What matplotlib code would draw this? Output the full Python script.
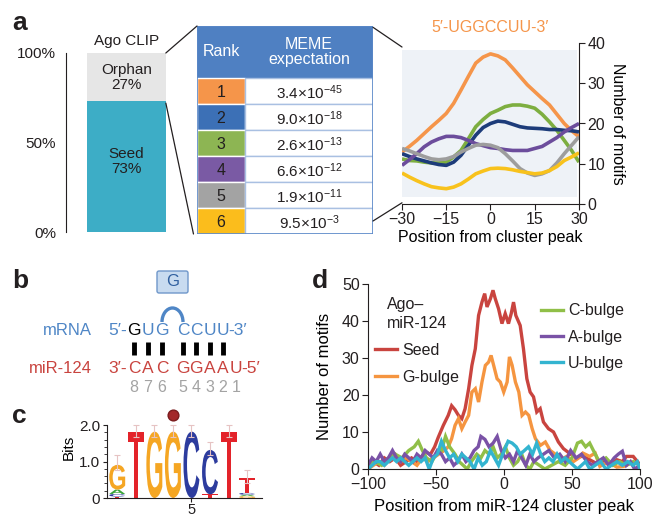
import numpy as np
import matplotlib
matplotlib.use('Agg')
import matplotlib.pyplot as plt
from matplotlib.patches import Rectangle, FancyBboxPatch, Arc, PathPatch, ConnectionPatch
from matplotlib.textpath import TextPath
from matplotlib.font_manager import FontProperties
from matplotlib.transforms import Affine2D
from matplotlib.ticker import FixedLocator

plt.rcParams['font.family'] = ['Liberation Sans', 'DejaVu Sans']
plt.rcParams['mathtext.fontset'] = 'custom'
plt.rcParams['mathtext.rm'] = 'Liberation Sans'
plt.rcParams['mathtext.default'] = 'regular'
plt.rcParams['text.color'] = '#231f20'
plt.rcParams['axes.edgecolor'] = '#231f20'
plt.rcParams['xtick.color'] = '#231f20'
plt.rcParams['ytick.color'] = '#231f20'

## panel a: Ago CLIP split
clip_labels = ['Seed', 'Orphan']
clip_pct = [73, 27]
clip_colors = ['#3dadc6', '#e6e6e6']

## panel a: MEME table
ranks = ['1', '2', '3', '4', '5', '6']
meme_exp = [r'3.4$\times$10$^{-45}$', r'9.0$\times$10$^{-18}$', r'2.6$\times$10$^{-13}$',
            r'6.6$\times$10$^{-12}$', r'1.9$\times$10$^{-11}$', r'9.5$\times$10$^{-3}$']
rank_colors = ['#f5954a', '#3c70b6', '#8db553', '#7a5aa4', '#a3a3a3', '#fbbd1c']

## panel a: motif profiles around cluster peak
pos_a = [-30, -27.5, -25, -22.5, -20, -17.5, -15, -12.5, -10, -7.5, -5, -2.5, 0,
         2.5, 5, 7.5, 10, 12.5, 15, 17.5, 20, 22.5, 25, 27.5, 30]
m_orange = [12.9, 14.3, 15.8, 17.5, 19.2, 20.8, 22.5, 25.0, 28.3, 31.7, 35.0, 36.5, 37.3,
            36.8, 35.8, 33.8, 31.7, 29.6, 27.9, 26.2, 24.6, 22.3, 20.0, 18.2, 16.7]
m_green = [11.2, 10.8, 10.7, 10.4, 10.2, 10.2, 10.4, 11.7, 13.3, 16.2, 19.2, 21.0, 22.5,
           23.3, 24.2, 24.6, 24.6, 24.3, 23.8, 22.3, 20.4, 18.3, 15.8, 13.3, 10.4]
m_navy = [12.5, 11.8, 11.2, 10.7, 10.2, 9.8, 9.6, 10.4, 12.1, 14.6, 17.1, 19.0, 20.0,
          20.6, 20.4, 19.8, 19.2, 18.9, 18.8, 18.7, 18.5, 18.5, 18.3, 18.2, 17.9]
m_purple = [9.6, 11.0, 12.5, 14.2, 15.4, 16.2, 16.8, 16.8, 16.5, 15.8, 15.0, 14.5, 14.0,
            13.8, 13.5, 13.3, 13.3, 13.3, 13.8, 14.3, 15.4, 16.5, 17.9, 19.0, 20.0]
m_grey = [13.8, 13.2, 12.5, 11.8, 11.2, 11.0, 11.2, 11.8, 12.9, 13.8, 14.6, 14.8, 14.6,
          14.0, 12.5, 10.7, 8.8, 7.7, 7.1, 7.5, 8.3, 10.2, 12.5, 14.6, 16.7]
m_yellow = [7.7, 6.7, 5.8, 5.0, 4.3, 4.0, 3.8, 4.2, 5.0, 6.2, 7.5, 8.2, 8.8,
            8.9, 8.8, 8.5, 8.1, 7.8, 7.5, 7.7, 8.3, 9.3, 10.8, 11.7, 12.7]

## panel b: pairing diagram
mrna_left = ['G', 'U', 'G']
mrna_right = ['C', 'C', 'U', 'U']
mir_left = ['C', 'A', 'C']
mir_right = ['G', 'G', 'A', 'A', 'U']
seed_nums_left = ['8', '7', '6']
seed_nums_right = ['5', '4', '3', '2', '1']

## panel c: sequence logo (letters bottom->top with heights in bits)
logo_letters = [['T', 'C', 'A', 'G'], ['T'], ['G'], ['G'], ['C'], ['T', 'C'], ['T'], ['G', 'A', 'C', 'T']]
logo_heights = [[0.04, 0.07, 0.12, 0.68], [1.82], [1.82], [1.82], [1.82], [0.10, 1.22], [1.82], [0.05, 0.04, 0.05, 0.41]]
logo_err = [1.18, 2.0, 2.0, 2.0, 2.0, 1.55, 2.0, 0.77]
nt_colors = {'A': '#3aa53a', 'C': '#2d3c9e', 'G': '#f5a623', 'T': '#e3232a'}

## panel d: motifs around miR-124 cluster peak
seed_x = [-100, -96, -92, -88, -84, -80, -76, -72, -68, -64, -61, -58, -54, -51, -48.3, -44.6,
          -41, -38.5, -36, -33.5, -31, -28.6, -26, -23.6, -21.1, -18.7, -16.2, -14.2, -12.5,
          -10, -8.1, -6.4, -4, -1.5, 0.9, 3.3, 5.3, 7, 8.7, 11.9, 14.3, 16.8, 19.2, 21.7,
          24.1, 26.6, 29, 32.7, 36.4, 40, 43.7, 48, 53, 58, 63, 68, 73, 78, 83, 87, 90, 95, 99]
seed_y = [1, 2, 1, 3, 2, 3, 1, 2, 3, 2, 3, 4.6, 4, 6, 8.6, 11.8,
          14.5, 17.1, 16, 14.5, 13.6, 16.3, 21.7, 28, 32.5, 41.5, 45.1, 47.4, 43.8,
          46, 48.3, 46, 43.3, 39.3, 42, 39.3, 42, 45.1, 41.5, 38.8, 32.5, 24.4, 20.8, 19.5,
          15.4, 16.3, 12.7, 10.9, 10, 7.3, 5.5, 4.3, 3, 3.5, 2.5, 1.5, 2, 1, 2.5, 2, 3.4, 3.4, 1.6]
gb_x = [-100, -96, -92, -88, -84, -80, -76, -72, -68, -64, -60, -56, -52, -48, -44, -41,
        -38.5, -36, -33.5, -31, -28.6, -26, -23.6, -21.1, -18.7, -16.2, -13.7, -11.3, -9.5,
        -7.6, -5.1, -2.7, -0.2, 2.3, 4, 6, 8.4, 10.9, 13.3, 15.8, 18.2, 20.7, 23.1, 26.8,
        30.4, 34, 38.9, 42, 46, 51, 55, 58, 63, 67, 70.5, 74, 78, 83, 88, 93, 97.5, 100]
gb_y = [0, 1, 2, 1, 3, 4, 2, 3, 2, 1, 3, 2, 3, 4, 5, 6,
        8.2, 11.8, 13.6, 10.9, 12.7, 14.5, 20.8, 21.7, 18.1, 23.5, 28, 28.9, 30.7,
        28, 24.4, 23.5, 20.8, 23.5, 30.3, 28, 23.5, 20.8, 14.5, 15.4, 14.5, 10.9, 8.2, 6.4,
        7.3, 5, 3.7, 2.5, 3.4, 2, 3, 4.3, 3.4, 4.3, 0.7, 1.5, 1.6, 0.5, 0.7, 1.5, 1.6, 1]
cb_x = [-100, -95, -90, -85, -80, -75, -70, -66, -63, -60, -57, -53, -50, -46, -43, -40, -36,
        -33, -30, -27, -24, -20, -17, -14, -11, -8, -5, -2, 1, 4, 7, 10, 13, 16, 19, 22, 26,
        30, 35, 40, 45, 50, 54, 57, 60, 63, 66, 70, 75, 80, 85, 90, 95, 100]
cb_y = [1, 2, 1, 3, 4, 3, 5, 6, 7.5, 5, 3, 2, 4, 5, 8.8, 6, 4,
        2, 1, 0, 2, 4, 3, 5, 4, 6, 3, 4, 6, 3, 1, 2, 4, 1, 0, 2, 1,
        0, 1, 2, 1, 3, 7, 7.5, 6, 7, 4.8, 2, 3, 1, 2, 1, 2, 1]
ab_x = [-100, -97, -94, -91, -88, -85, -82, -79, -76, -73, -70, -67, -64, -61, -58, -55, -52,
        -49, -46, -43, -40, -37, -34, -31, -28, -25, -22, -19, -17, -14, -11, -8, -5, -2, 1,
        4, 7, 10, 13, 16, 19, 22, 25, 29, 33, 37, 41, 45, 49, 53, 57, 61, 65, 69, 73, 77,
        81, 84, 87, 90, 93, 96, 100]
ab_y = [1, 3, 2, 4, 2, 3, 5, 3, 2, 4, 3, 2, 4, 3, 5, 4, 3,
        5, 4, 2, 3, 1, 2, 4, 2, 3, 5, 6, 8.8, 8, 6, 7, 8.8, 5, 3,
        4, 2, 5, 3, 1, 4, 2, 3, 4, 5, 3, 4, 2, 5, 3, 4, 2, 1, 2, 3, 1,
        3, 4, 4.8, 1, 2, 0, 1]
ub_x = [-100, -97, -94, -91, -88, -85, -82, -79, -76, -73, -70, -67, -64, -61, -58, -55, -52,
        -49, -46, -43, -40, -37, -34, -31, -28, -25, -22, -19, -16, -13, -10, -7, -4, -1, 3,
        6, 9, 12, 15, 18, 21, 24, 27, 30, 33, 36, 39, 42, 45, 48, 51, 54, 57, 60, 63, 67,
        71, 75, 79, 83, 87, 91, 95, 98, 100]
ub_y = [0, 1, 2, 2, 1, 2, 3, 2, 3, 2, 1, 2, 3, 2, 3, 0, 3,
        4, 7.5, 5, 3, 4, 2, 4, 3, 2, 0, 3, 1, 2, 5, 3, 1, 4, 7.5,
        7, 6, 4, 5, 6, 4, 7, 4, 2, 3, 2, 4, 2, 3, 2, 1, 0, 1, 2, 0, 1,
        2, 0, 1, 2, 1, 2, 1, 2, 0]

W, H = 654, 517
fig = plt.figure(figsize=(W / 100, H / 100), dpi=100)
fig.patch.set_facecolor('white')


def px_axes(x0, y0, x1, y1):
    return fig.add_axes([x0 / W, 1 - y1 / H, (x1 - x0) / W, (y1 - y0) / H])


LOGO_FP = FontProperties(family='Liberation Sans', weight='bold')


def draw_letter(ax, ch, x, y0, h, color, w=0.86):
    tp = TextPath((0, 0), ch, size=1, prop=LOGO_FP)
    bb = tp.get_extents()
    tr = Affine2D().translate(-bb.x0, -bb.y0).scale(w / bb.width, h / bb.height).translate(x - w / 2, y0)
    ax.add_patch(PathPatch(tr.transform_path(tp), fc=color, ec='none', lw=0))


# panel labels
for lab, (lx, ly) in zip('abcd', [(12, 30), (12, 288), (12, 423), (312, 288)]):
    fig.text(lx / W, 1 - ly / H, lab, fontsize=19, fontweight='bold', va='baseline')

# ---------------- panel a: stacked bar
ax_bar = px_axes(66, 53, 170, 232)
bottom = 0
for name, val, col in zip(clip_labels, clip_pct, clip_colors):
    ax_bar.bar(0.58, val, width=0.76, bottom=bottom, color=col)
    ax_bar.text(0.58, bottom + val / 2 + (3 if name == 'Seed' else 0), f'{name}\n{val}%',
                ha='center', va='center', fontsize=11, linespacing=1.1)
    bottom += val
ax_bar.text(0.58, 103, 'Ago CLIP', ha='center', va='bottom', fontsize=11)
ax_bar.set_xlim(0, 1)
ax_bar.set_ylim(0, 100)
ax_bar.set_xticks([])
ax_bar.set_yticks([0, 50, 100])
ax_bar.set_yticklabels(['0%', '50%', '100%'])
ax_bar.tick_params(axis='y', length=0, pad=7, labelsize=11)
for s in ['top', 'right', 'bottom']:
    ax_bar.spines[s].set_visible(False)
ax_bar.patch.set_visible(False)

# ---------------- panel a: table
ax_tab = px_axes(197, 26, 373, 234)
ax_tab.set_xlim(0, 1)
ax_tab.set_ylim(8, 0)
ax_tab.axis('off')
rank_w = 0.273
ax_tab.add_patch(Rectangle((0, 0), 1, 2, fc='#4f80c2', ec='none'))
ax_tab.text(rank_w / 2, 1.0, 'Rank', color='white', ha='center', va='center', fontsize=11.5)
ax_tab.text(rank_w + (1 - rank_w) / 2, 1.0, 'MEME\nexpectation', color='white', ha='center',
            va='center', fontsize=11.5, linespacing=1.05)
for i, (r, e, c) in enumerate(zip(ranks, meme_exp, rank_colors)):
    ax_tab.add_patch(Rectangle((0, 2 + i), rank_w, 1, fc=c, ec='white', lw=1))
    ax_tab.add_patch(Rectangle((rank_w, 2 + i), 1 - rank_w, 1, fc='white', ec='#a9c0e2', lw=1))
    ax_tab.text(rank_w / 2, 2.55 + i, r, ha='center', va='center', fontsize=11.5)
    ax_tab.text(rank_w + (1 - rank_w) / 2, 2.55 + i, e, ha='center', va='center', fontsize=11)
ax_tab.add_patch(Rectangle((0, 0), 1, 8, fc='none', ec='#5a88c8', lw=1.2))

# ---------------- panel a: motif profiles
ax_r = px_axes(402, 43, 579, 204)
ax_r.add_patch(Rectangle((-30, 1.7), 59.3, 36.6, fc='#eef2f7', ec='none', zorder=0))
for ys, col in [(m_orange, '#f5954a'), (m_green, '#7dae40'), (m_navy, '#1d3c7a'),
                (m_purple, '#6c4d9c'), (m_grey, '#9d9d9d'), (m_yellow, '#f8c21c')]:
    ax_r.plot(pos_a, ys, color=col, lw=2.6, solid_capstyle='butt', solid_joinstyle='round')
ax_r.set_xlim(-30, 30)
ax_r.set_ylim(0, 40)
ax_r.set_xticks([-30, -15, 0, 15, 30])
ax_r.set_yticks([0, 10, 20, 30, 40])
ax_r.yaxis.tick_right()
ax_r.yaxis.set_label_position('right')
ax_r.spines['left'].set_visible(False)
ax_r.spines['top'].set_visible(False)
ax_r.tick_params(direction='out', length=4, labelsize=11.5, pad=2)
ax_r.set_ylabel('Number of motifs', rotation=270, fontsize=11.5, labelpad=14)
ax_r.set_xlabel('Position from cluster peak', fontsize=11.5, labelpad=2)
ax_r.set_title('5\u2032-UGGCCUU-3\u2032', color='#f5954a', fontsize=11.5, pad=8)
ax_r.patch.set_visible(False)

# connector lines
for (xa, ya, axa), (xb, yb, axb) in [((0.96, 100, ax_bar), (0, 0, ax_tab)),
                                     ((0.96, 72, ax_bar), (-0.02, 8, ax_tab)),
                                     ((1, 0.05, ax_tab), (-30, 39, ax_r)),
                                     ((1, 7.5, ax_tab), (-30, 0.3, ax_r))]:
    fig.add_artist(ConnectionPatch(xyA=(xa, ya), coordsA=axa.transData, xyB=(xb, yb),
                                   coordsB=axb.transData, color='#231f20', lw=0.9))

# ---------------- panel b: pairing diagram
ax_b = px_axes(0, 260, 300, 400)
ax_b.set_xlim(0, 300)
ax_b.set_ylim(400, 260)
ax_b.axis('off')
blue_t, red_t, grey_t = '#4f86c6', '#c9443f', '#a3a3a3'
left_x = 134 + 14 * np.arange(3)
right_x = 183 + 13.3 * np.arange(5)
y_mrna, y_mir, y_num = 331, 369, 388
ax_b.text(92, y_mrna, 'mRNA', color=blue_t, ha='right', va='center', fontsize=12)
ax_b.text(92, y_mir, 'miR-124', color=red_t, ha='right', va='center', fontsize=12)
ax_b.text(left_x[0] - 7, y_mrna, '5\u2032-', color=blue_t, ha='right', va='center', fontsize=12.5)
for i, ch in enumerate(mrna_left):
    ax_b.text(left_x[i], y_mrna, ch, color='black' if i == 0 else blue_t, ha='center', va='center', fontsize=12.5)
for i, ch in enumerate(mrna_right):
    ax_b.text(right_x[i], y_mrna, ch, color=blue_t, ha='center', va='center', fontsize=12.5)
ax_b.text(right_x[len(mrna_right) - 1] + 5, y_mrna, '-3\u2032', color=blue_t, ha='left', va='center', fontsize=12.5)
ax_b.text(left_x[0] - 7, y_mir, '3\u2032-', color=red_t, ha='right', va='center', fontsize=12.5)
for i, ch in enumerate(mir_left):
    ax_b.text(left_x[i], y_mir, ch, color=red_t, ha='center', va='center', fontsize=12.5)
for i, ch in enumerate(mir_right):
    ax_b.text(right_x[i], y_mir, ch, color=red_t, ha='center', va='center', fontsize=12.5)
ax_b.text(right_x[-1] + 5, y_mir, '-5\u2032', color=red_t, ha='left', va='center', fontsize=12.5)
for i, ch in enumerate(seed_nums_left):
    ax_b.text(left_x[i], y_num, ch, color=grey_t, ha='center', va='center', fontsize=11.5)
for i, ch in enumerate(seed_nums_right):
    ax_b.text(right_x[i], y_num, ch, color=grey_t, ha='center', va='center', fontsize=11.5)
pair_x = list(left_x) + list(right_x[:len(mrna_right)])
ax_b.vlines(pair_x, 342, 355, color='black', lw=3.5)
ax_b.add_patch(FancyBboxPatch((157, 271), 31, 22, boxstyle='round,pad=0,rounding_size=2',
                              fc='#c8dbf0', ec='#6f97ca', lw=1))
ax_b.text(172.5, 282, 'G', color='#2f5f9f', ha='center', va='center', fontsize=12)
ax_b.add_patch(Arc((172.5, 322), 21, 28, theta1=180, theta2=360, color=blue_t, lw=2.4))

# ---------------- panel c: sequence logo
ax_c = px_axes(107, 396, 262, 498)
for p, (lets, hs) in enumerate(zip(logo_letters, logo_heights), start=1):
    y0 = 0
    for ch, h in zip(lets, hs):
        draw_letter(ax_c, ch, p, y0, h, nt_colors[ch])
        y0 += h
    top = y0
    ax_c.errorbar([p], [top], yerr=[[0.15], [logo_err[p - 1] - top]], fmt='none',
                  ecolor='#e6c3c3', elinewidth=0.8, capsize=2, capthick=0.8)
ax_c.scatter([4], [2.27], s=60, color='#a3282a', edgecolor='#7a1b1d', zorder=5, clip_on=False)
ax_c.set_xlim(0.45, 8.8)
ax_c.set_ylim(0, 2.8)
ax_c.spines['left'].set_bounds(0, 2)
ax_c.spines['top'].set_visible(False)
ax_c.spines['right'].set_visible(False)
ax_c.set_yticks([0, 1, 2])
ax_c.set_yticklabels(['0', '1.0', '2.0'])
ax_c.yaxis.set_minor_locator(FixedLocator(np.arange(0, 2.01, 0.2)))
ax_c.set_xticks([5])
ax_c.tick_params(direction='out', length=3, labelsize=11, pad=2)
ax_c.tick_params(axis='x', pad=0.5, labelsize=10.5)
ax_c.tick_params(which='minor', length=2)
ax_c.set_ylabel('Bits', fontsize=11, labelpad=2)
ax_c.patch.set_visible(False)

# ---------------- panel d
ax_d = px_axes(368, 284, 640, 469)
kw = dict(lw=2.4, solid_joinstyle='miter')
l_seed, = ax_d.plot(seed_x, seed_y, color='#c9443f', **kw)
l_gb, = ax_d.plot(gb_x, gb_y, color='#f59540', **kw)
l_cb, = ax_d.plot(cb_x, cb_y, color='#90bf48', **kw)
l_ab, = ax_d.plot(ab_x, ab_y, color='#7a52a6', **kw)
l_ub, = ax_d.plot(ub_x, ub_y, color='#33b4d0', **kw)
ax_d.set_xlim(-100, 100)
ax_d.set_ylim(0, 50)
ax_d.set_xticks([-100, -50, 0, 50, 100])
ax_d.set_yticks([0, 10, 20, 30, 40, 50])
ax_d.spines['top'].set_visible(False)
ax_d.spines['right'].set_visible(False)
ax_d.tick_params(direction='out', length=4, labelsize=11.5, pad=2)
ax_d.set_ylabel('Number of motifs', fontsize=12, labelpad=7)
ax_d.set_xlabel('Position from miR-124 cluster peak', fontsize=12, labelpad=5)
leg1 = ax_d.legend([l_seed, l_gb], ['Seed', 'G-bulge'], title='Ago\u2013\nmiR-124', loc='upper left',
                   bbox_to_anchor=(0.025, 0.93), frameon=False, fontsize=11.5, title_fontsize=11.5,
                   handlelength=1.4, handletextpad=0.3, labelspacing=0.75, borderpad=0, borderaxespad=0)
leg1.get_title().set_linespacing(1.3)
ax_d.add_artist(leg1)
ax_d.legend([l_cb, l_ab, l_ub], ['C-bulge', 'A-bulge', 'U-bulge'], loc='upper left',
            bbox_to_anchor=(0.635, 0.895), frameon=False, fontsize=11.5, handlelength=1.4,
            handletextpad=0.3, labelspacing=0.7, borderpad=0, borderaxespad=0)

fig.savefig('out.png', dpi=100)
